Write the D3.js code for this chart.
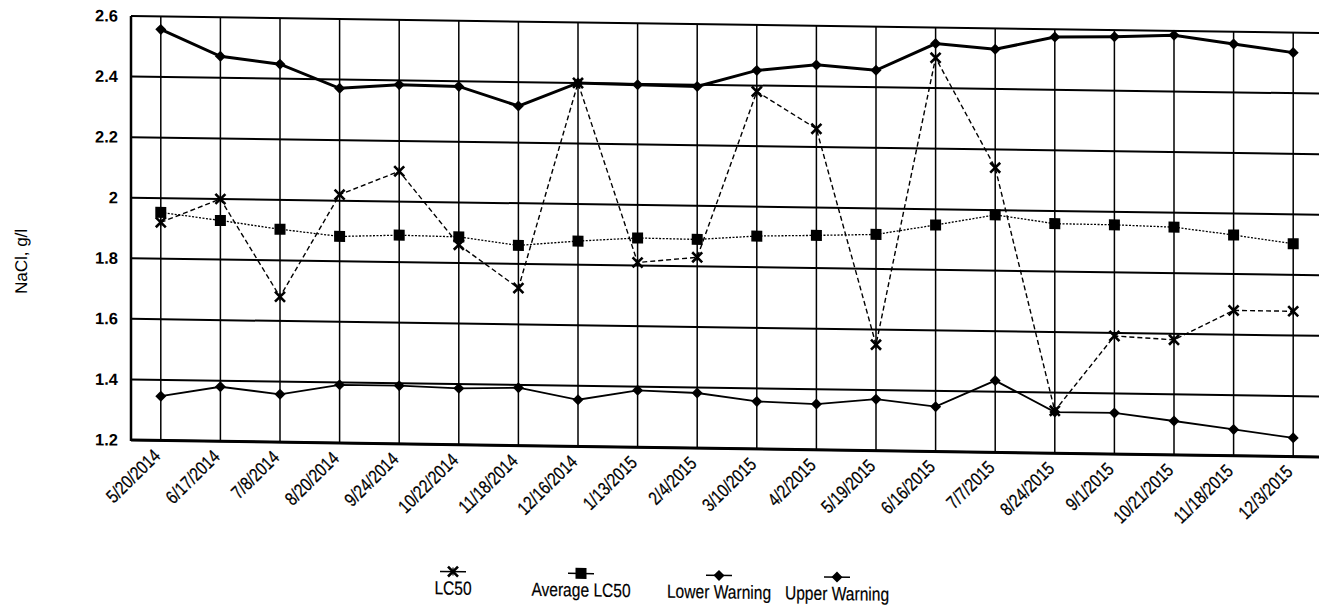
<!DOCTYPE html>
<html>
<head>
<meta charset="utf-8">
<script src="https://cdn.jsdelivr.net/npm/d3@7"></script>
<style>
  body { margin: 0; background: #fff; }
  svg { display: block; font-family: "Liberation Sans", Arial, sans-serif; }
</style>
</head>
<body>
<div id="chart"></div>
<script>
// sampling dates
const categories = ["5/20/2014", "6/17/2014", "7/8/2014", "8/20/2014", "9/24/2014", "10/22/2014",
  "11/18/2014", "12/16/2014", "1/13/2015", "2/4/2015", "3/10/2015", "4/2/2015", "5/19/2015",
  "6/16/2015", "7/7/2015", "8/24/2015", "9/1/2015", "10/21/2015", "11/18/2015", "12/3/2015"];

const lc50 = [1.92, 2.00, 1.68, 2.02, 2.10, 1.86, 1.72, 2.40, 1.81, 1.83,
  2.38, 2.26, 1.55, 2.50, 2.14, 1.34, 1.59, 1.58, 1.68, 1.68];
const avgLc50 = [1.953, 1.929, 1.903, 1.882, 1.889, 1.886, 1.861, 1.878, 1.891, 1.889,
  1.903, 1.908, 1.914, 1.948, 1.984, 1.958, 1.957, 1.952, 1.929, 1.903];
const lowerWarning = [1.346, 1.380, 1.358, 1.392, 1.392, 1.386, 1.391, 1.354, 1.388, 1.382,
  1.357, 1.351, 1.370, 1.348, 1.437, 1.336, 1.336, 1.312, 1.287, 1.262];
const upperWarning = [2.557, 2.471, 2.448, 2.371, 2.386, 2.383, 2.321, 2.400, 2.397, 2.394,
  2.450, 2.471, 2.456, 2.547, 2.531, 2.574, 2.578, 2.586, 2.560, 2.534];

const yTicks = [1.2, 1.4, 1.6, 1.8, 2, 2.2, 2.4, 2.6];

const W = 1319, H = 610;
const plot = {left: 131, right: 1323, top: 16, bottom: 440};
const narrow = 0.82; // the scan uses a condensed face

const svg = d3.select("#chart").append("svg")
    .attr("width", W).attr("height", H);
svg.append("rect").attr("width", W).attr("height", H).attr("fill", "#fff");

// the scanned page is slightly skewed: everything drops toward the right
const g = svg.append("g")
    .attr("transform", `translate(${plot.left},0) skewY(0.82) translate(${-plot.left},0)`);

const x = d3.scaleBand().domain(categories).range([plot.left, plot.right]);
const cx = d => x(d) + x.bandwidth() / 2;
const y = d3.scaleLinear().domain([1.2, 2.6]).range([plot.bottom, plot.top]);

// grid
g.selectAll(".hgrid").data(yTicks).enter().append("line")
    .attr("x1", plot.left).attr("x2", plot.right)
    .attr("y1", d => y(d)).attr("y2", d => y(d))
    .attr("stroke", "#000").attr("stroke-width", 2);

g.selectAll(".vgrid").data(categories).enter().append("line")
    .attr("x1", d => cx(d)).attr("x2", d => cx(d))
    .attr("y1", y(2.6)).attr("y2", y(1.2))
    .attr("stroke", "#000").attr("stroke-width", 1.5);

// frame
g.append("line").attr("x1", plot.left).attr("x2", plot.left)
    .attr("y1", y(2.6)).attr("y2", y(1.2) + 1).attr("stroke", "#000").attr("stroke-width", 2.5);
g.append("line").attr("x1", plot.left).attr("x2", plot.right)
    .attr("y1", y(1.2)).attr("y2", y(1.2)).attr("stroke", "#000").attr("stroke-width", 3);

// y tick labels
g.selectAll(".ytl").data(yTicks).enter().append("text")
    .attr("x", plot.left - 13).attr("y", d => y(d)).attr("dy", "0.35em")
    .attr("text-anchor", "end").attr("font-size", 16.5).attr("font-weight", "bold")
    .text(d => d3.format("")(d));

// y title
g.append("text")
    .attr("transform", "translate(27,263) rotate(-90)")
    .attr("text-anchor", "middle").attr("font-size", 17)
    .text("NaCl, g/l");

// x tick labels
g.selectAll(".xtl").data(categories).enter().append("text")
    .attr("transform", d => `translate(${cx(d) - 4},${plot.bottom + 12}) rotate(-45) scale(${narrow},1)`)
    .attr("text-anchor", "end").attr("dy", "0.35em").attr("font-size", 18.5)
    .attr("stroke", "#000").attr("stroke-width", 0.25)
    .text(d => d);

// markers
function drawMarker(sel, type) {
  if (type === "square") {
    sel.append("rect").attr("x", -5.5).attr("y", -5.5).attr("width", 11).attr("height", 11).attr("fill", "#000");
  } else if (type === "diamond") {
    sel.append("path").attr("d", "M0,-5.5L5.5,0L0,5.5L-5.5,0Z").attr("fill", "#000");
  } else if (type === "x") {
    sel.append("path").attr("d", "M-5,-5L5,5M-5,5L5,-5").attr("stroke", "#000").attr("stroke-width", 2.6);
    sel.append("path").attr("d", "M0,-4L0,4").attr("stroke", "#000").attr("stroke-width", 1.2);
  }
}

const series = [
  {name: "Lower Warning", values: lowerWarning, width: 1.8, dash: null, marker: "diamond"},
  {name: "Upper Warning", values: upperWarning, width: 3, dash: null, marker: "diamond"},
  {name: "Average LC50", values: avgLc50, width: 1.3, dash: "2,1.5", marker: "square"},
  {name: "LC50", values: lc50, width: 1.4, dash: "5,3", marker: "x"}
];

const line = d3.line().x((d, i) => cx(categories[i])).y(d => y(d));

series.forEach(s => {
  g.append("path").datum(s.values)
      .attr("d", line).attr("fill", "none")
      .attr("stroke", "#000").attr("stroke-width", s.width)
      .attr("stroke-dasharray", s.dash);
  g.selectAll(null).data(s.values).enter().append("g")
      .attr("transform", (d, i) => `translate(${cx(categories[i])},${y(d)})`)
      .call(sel => drawMarker(sel, s.marker));
});

// legend: symbol above label
const legendItems = [
  {name: "LC50", marker: "x", cx: 453},
  {name: "Average LC50", marker: "square", cx: 581},
  {name: "Lower Warning", marker: "diamond", cx: 719},
  {name: "Upper Warning", marker: "diamond", cx: 837}
];
const leg = g.selectAll(".leg").data(legendItems).enter().append("g")
    .attr("transform", d => `translate(${d.cx},0)`);
leg.append("line").attr("x1", -13).attr("x2", 13).attr("y1", 567).attr("y2", 567)
    .attr("stroke", "#000").attr("stroke-width", 1.5);
leg.append("g").attr("transform", "translate(0,567)")
    .each(function(d) { drawMarker(d3.select(this), d.marker); });
leg.append("text").attr("transform", `translate(0,590) scale(${narrow},1)`)
    .attr("text-anchor", "middle").attr("font-size", 19)
    .attr("stroke", "#000").attr("stroke-width", 0.2)
    .text(d => d.name);
</script>
</body>
</html>
